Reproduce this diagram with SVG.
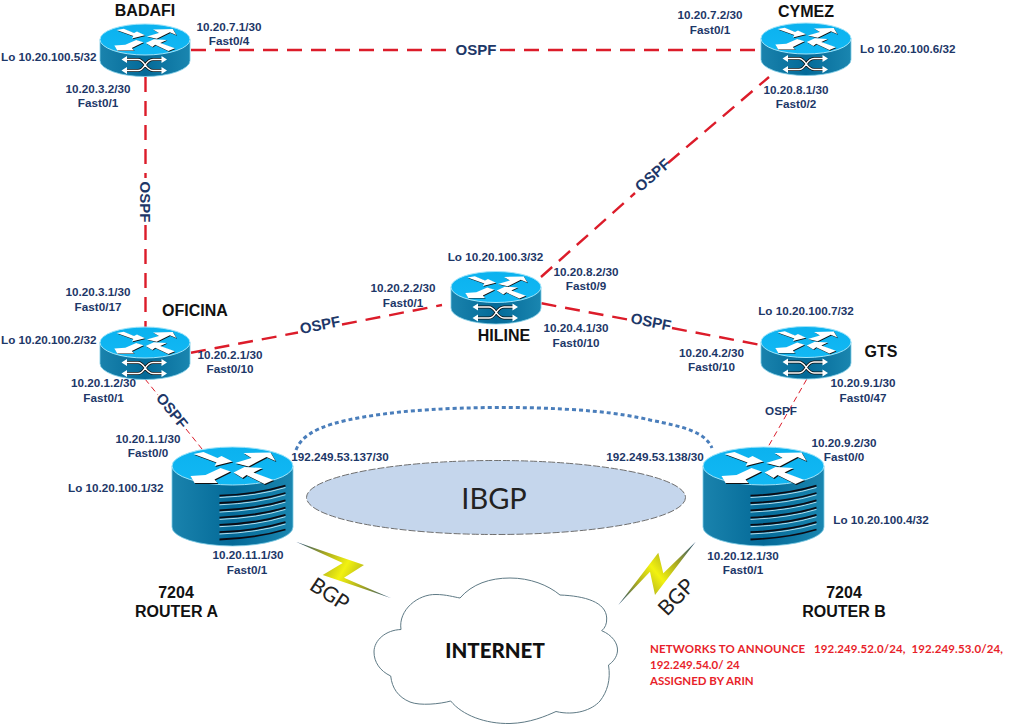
<svg xmlns="http://www.w3.org/2000/svg" width="1011" height="725" viewBox="0 0 1011 725">
<style>
text{font-family:"Liberation Sans",Arial,sans-serif}
.l{font-size:11.7px;font-weight:700;fill:#1d3768;text-anchor:middle}
.ls{font-size:11.7px;font-weight:700;fill:#1d3768}
.o{font-size:15px;font-weight:700;fill:#1d3768;text-anchor:middle}
.n{font-size:16px;font-weight:700;fill:#111;text-anchor:middle}
.c{font-family:Lato,"Open Sans",sans-serif}
.red{font-family:Lato,"Open Sans",sans-serif;font-size:11.5px;font-weight:700;fill:#e81f2b}
.thick{fill:none;stroke:#dc1c2a;stroke-width:2.4;stroke-dasharray:15 9}
.thin{fill:none;stroke:#dc1c2a;stroke-width:1;stroke-dasharray:6 4}
.top{fill:url(#topG);stroke:#9fe4fa;stroke-width:1}
.side{fill:url(#sideG);stroke:#7ccbe6;stroke-width:.8}
.ar{fill:#fff}
.as{fill:#111}
.bar{fill:none;stroke:#0b0b14;stroke-width:1.8}
.bar2{fill:none;stroke:#b4dfee;stroke-width:1}
</style>
<defs>
<linearGradient id="topG" x1="0" y1="0" x2="0" y2="1"><stop offset="0" stop-color="#0bb2ef"/><stop offset="1" stop-color="#12b8f4"/></linearGradient>
<linearGradient id="sideG" x1="0" y1="0" x2="1" y2="0"><stop offset="0" stop-color="#1a83ad"/><stop offset=".5" stop-color="#046a98"/><stop offset="1" stop-color="#1a86b0"/></linearGradient>
<linearGradient id="boltA" gradientUnits="userSpaceOnUse" x1="296" y1="542" x2="391" y2="598"><stop offset="0" stop-color="#1d4a7d"/><stop offset=".28" stop-color="#a8a820"/><stop offset=".5" stop-color="#f2f210"/><stop offset=".72" stop-color="#a8a820"/><stop offset="1" stop-color="#1d4a7d"/></linearGradient>
<linearGradient id="boltB" gradientUnits="userSpaceOnUse" x1="696" y1="542" x2="618" y2="605"><stop offset="0" stop-color="#1d4a7d"/><stop offset=".28" stop-color="#a8a820"/><stop offset=".5" stop-color="#f2f210"/><stop offset=".72" stop-color="#a8a820"/><stop offset="1" stop-color="#1d4a7d"/></linearGradient>
<g id="arrowShapes">
<polygon points="-39,-12 -29,-14 -15,-8 -11,-10 0,-4.5 -18,0 -16,-3.5"/>
<polygon points="2.5,-3 19,-8 11,-13 38,-13.5 43,-5 34,-9 16,.5"/>
<polygon points="-42,10 -27,9 -12,2 -2,5.5 -18,13.5 -15,17 -38,17"/>
<polygon points="1,6.5 12,1 30,2 21,6.5 41,14 32,18 14,9 10,12"/>
</g>
<g id="arrows">
<use href="#arrowShapes" class="as" transform="translate(.9,1)"/>
<use href="#arrowShapes" class="ar"/>
</g>
<g id="cross">
<path d="M-19,20 H-7 C0,20 0,31 8,31 H18 M-19,31 H-7 C0,31 0,20 8,20 H18" fill="none" stroke="#111" stroke-width="3"/>
<path d="M-19,20 H-7 C0,20 0,31 8,31 H18 M-19,31 H-7 C0,31 0,20 8,20 H18" fill="none" stroke="#fff" stroke-width="1.4"/>
<path d="M-23.5,20 L-18,16.5 V23.5 Z M-23.5,31 L-18,27.5 V34.5 Z M22,20 L16.5,16.5 V23.5 Z M22,31 L16.5,27.5 V34.5 Z" fill="#fff"/>
</g>
<g id="smallRouter">
<path class="side" d="M-45,0 V21 A45,16 0 0 0 45,21 V0 Z"/>
<ellipse class="top" cx="0" cy="0" rx="45" ry="15.5"/>
<use href="#arrows" transform="translate(0,-1) scale(.73,.7)"/>
<use href="#cross"/>
</g>
<g id="bigRouter">
<path class="side" d="M-60.5,0 V61 A60.5,19 0 0 0 60.5,61 V0 Z"/>
<ellipse class="top" cx="0" cy="0" rx="60.5" ry="19"/>
<use href="#arrows"/>
<g class="bar2">
<path d="M-13,31.5 Q25,30 53,21.5"/><path d="M-13,38.8 Q25,37.3 53,28.8"/><path d="M-13,46.1 Q25,44.6 53,36.1"/><path d="M-13,53.4 Q25,51.9 53,43.4"/><path d="M-13,60.7 Q25,59.2 53,50.7"/><path d="M-13,68 Q25,66.5 53,58"/>
</g>
<g class="bar">
<path d="M-13,29.7 Q25,28.2 53,19.7"/><path d="M-13,37 Q25,35.5 53,27"/><path d="M-13,44.3 Q25,42.8 53,34.3"/><path d="M-13,51.6 Q25,50.1 53,41.6"/><path d="M-13,58.9 Q25,57.4 53,48.9"/><path d="M-13,66.2 Q25,64.7 53,56.2"/><path d="M-13,73.5 Q25,72 53,63.5"/>
</g>
</g>
</defs>
<rect width="1011" height="725" fill="#fff"/>

<g id="ibgp">
<ellipse cx="496" cy="497.5" rx="189.5" ry="37" fill="#c5d6ec" stroke="#6f6f6f" stroke-width="1" stroke-dasharray="7 2"/>
<text x="494" y="509" class="c" font-size="29" text-anchor="middle" fill="#222">IBGP</text>
</g>

<g id="connectors">
<path class="thick" d="M191,50 H452"/><path class="thick" d="M500,50 H758"/>
<path class="thick" d="M145.500,77 V178"/><path class="thick" d="M145.500,225 V327"/>
<path class="thick" d="M191,352.700 L298,332.500"/><path class="thick" d="M342,324.500 L442,305"/>
<path class="thick" d="M541,277 L635,193"/><path class="thick" d="M668,163 L769,77"/>
<path class="thick" d="M541.500,303.300 L630,320"/><path class="thick" d="M672,328 L761,345"/>
<path class="thin" d="M145,379 L158,395"/><path class="thin" d="M186,429 L202,449"/>
<path class="thin" d="M806.700,379.300 L768,447"/>
<path d="M296,450 C305,425 350,418 400,412 C470,405 590,405 650,420 C685,427 705,432 712,448" fill="none" stroke="#4a7ebb" stroke-width="3" stroke-dasharray="4 3"/>
<text x="476" y="55" class="o">OSPF</text>
<text transform="translate(140,202) rotate(90)" class="o">OSPF</text>
<text transform="translate(321,330) rotate(-11)" class="o">OSPF</text>
<text transform="translate(656,179) rotate(-41)" class="o">OSPF</text>
<text transform="translate(650,327) rotate(11)" class="o">OSPF</text>
<text transform="translate(168,414) rotate(51)" class="o">OSPF</text>
<text x="781" y="415" class="l">OSPF</text>
</g>

<g id="badafi">
<use href="#smallRouter" x="145" y="39.500"/>
<text x="145" y="16" class="n">BADAFI</text>
<text x="1" y="60.700" class="ls">Lo 10.20.100.5/32</text>
</g>
<g id="cymez">
<use href="#smallRouter" x="806" y="38.500"/>
<text x="806" y="17" class="n">CYMEZ</text>
<text x="860" y="53.300" class="ls">Lo 10.20.100.6/32</text>
</g>
<g id="oficina">
<use href="#smallRouter" x="145" y="342.500"/>
<text x="195" y="316" class="n">OFICINA</text>
<text x="1" y="344.300" class="ls">Lo 10.20.100.2/32</text>
</g>
<g id="hiline">
<use href="#smallRouter" x="496" y="287"/>
<text x="504" y="340.700" class="n">HILINE</text>
<text x="495.500" y="261.300" class="l">Lo 10.20.100.3/32</text>
</g>
<g id="gts">
<use href="#smallRouter" x="806" y="342"/>
<text x="881" y="357.300" class="n">GTS</text>
<text x="806" y="315.300" class="l">Lo 10.20.100.7/32</text>
</g>
<g id="router-a">
<use href="#bigRouter" x="232.500" y="466"/>
<text x="176" y="597.700" class="n">7204</text>
<text x="176.500" y="617.300" class="n">ROUTER A</text>
<text x="68" y="491.700" class="ls">Lo 10.20.100.1/32</text>
</g>
<g id="router-b">
<use href="#bigRouter" x="763.500" y="466"/>
<text x="844" y="597.700" class="n">7204</text>
<text x="844" y="617.300" class="n">ROUTER B</text>
<text x="833.300" y="524.300" class="ls">Lo 10.20.100.4/32</text>
</g>
<g id="internet">
<path d="M460,598 C472,584 490,578 510,578 C530,578 548,585 560,595 C585,596 606,602 606.700,618 C607,624 605,628 601.700,630.700 C612,635 618,643 617.500,651 C617,657 613,662 608.500,665 C611,680 607,692 600,701 C592,710 575,716 556,711.500 C546,716 530,723 510,723.500 C485,724 462,715 450.700,701 C440,704 420,706 410,702 C398,697 392,688 390.700,676 C380,671 374,662 374,652 C374,640 386,630 401,629.500 C398,610 418,594 436,594.500 C446,594.500 454,597 460,598 Z" fill="#fff" stroke="#5f7a85" stroke-width="1"/>
<text x="495" y="657.700" class="c" font-size="20.500" font-weight="900" text-anchor="middle" fill="#111">INTERNET</text>
</g>

<g id="bgp-links">
<polygon points="296,541.700 364,565 344,577.700 390.700,598 322.700,575 342.700,563" fill="url(#boltA)"/>
<polygon points="695.700,541.700 655,595 650,571.700 618.300,605 658.300,552.700 663.300,573.300" fill="url(#boltB)"/>
<text transform="translate(329,595) rotate(33)" class="c" font-size="21" text-anchor="middle" fill="#222" y="6">BGP</text>
<text transform="translate(677,598) rotate(-46)" class="c" font-size="21" text-anchor="middle" fill="#222" y="6">BGP</text>
</g>

<g id="interface-labels">
<text x="229" y="30.500" class="l">10.20.7.1/30</text><text x="229" y="45" class="l">Fast0/4</text>
<text x="98" y="92.700" class="l">10.20.3.2/30</text><text x="98" y="106.700" class="l">Fast0/1</text>
<text x="710" y="19.300" class="l">10.20.7.2/30</text><text x="710" y="33.500" class="l">Fast0/1</text>
<text x="796" y="94.300" class="l">10.20.8.1/30</text><text x="796" y="108.300" class="l">Fast0/2</text>
<text x="98" y="296" class="l">10.20.3.1/30</text><text x="98" y="310.700" class="l">Fast0/17</text>
<text x="230" y="359.300" class="l">10.20.2.1/30</text><text x="230" y="373.300" class="l">Fast0/10</text>
<text x="103.500" y="387.300" class="l">10.20.1.2/30</text><text x="103.500" y="401.700" class="l">Fast0/1</text>
<text x="148" y="443.300" class="l">10.20.1.1/30</text><text x="148" y="457.300" class="l">Fast0/0</text>
<text x="403" y="292" class="l">10.20.2.2/30</text><text x="403" y="306.700" class="l">Fast0/1</text>
<text x="586" y="275.700" class="l">10.20.8.2/30</text><text x="586" y="290" class="l">Fast0/9</text>
<text x="576" y="332.300" class="l">10.20.4.1/30</text><text x="576" y="346.700" class="l">Fast0/10</text>
<text x="711.500" y="356.700" class="l">10.20.4.2/30</text><text x="711.500" y="371" class="l">Fast0/10</text>
<text x="863" y="387.300" class="l">10.20.9.1/30</text><text x="863" y="401.700" class="l">Fast0/47</text>
<text x="844" y="446.700" class="l">10.20.9.2/30</text><text x="844" y="460.700" class="l">Fast0/0</text>
<text x="340" y="461" class="l">192.249.53.137/30</text>
<text x="655" y="461" class="l">192.249.53.138/30</text>
<text x="248" y="559.300" class="l">10.20.11.1/30</text><text x="247" y="574.300" class="l">Fast0/1</text>
<text x="743" y="560" class="l">10.20.12.1/30</text><text x="743" y="574.300" class="l">Fast0/1</text>
</g>

<g id="note">
<text x="650" y="653.300" class="red" xml:space="preserve" textLength="353">NETWORKS TO ANNOUNCE   192.249.52.0/24,  192.249.53.0/24,</text>
<text x="650" y="669.300" class="red">192.249.54.0/ 24</text>
<text x="650" y="685" class="red">ASSIGNED BY ARIN</text>
</g>
</svg>
